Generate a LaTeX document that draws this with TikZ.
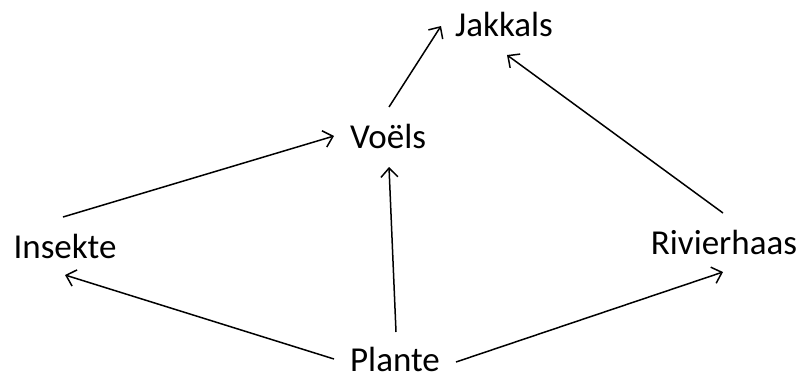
\documentclass[tikz,border=0pt]{standalone}
\usepackage{fontspec}
\setmainfont{Carlito}
\usetikzlibrary{arrows.meta}
\begin{document}
\begin{tikzpicture}[x=1pt,y=-1pt,
  lbl/.style={anchor=base,inner sep=0pt,font=\fontsize{35}{40}\selectfont},
  arr/.style={line width=1.5pt,-{Straight Barb[length=9pt,width=17pt,line width=1.5pt]}}]
\useasboundingbox (0,0) rectangle (802,378);
\node[lbl] (jakkals) at (504,36) {Jakkals};
\node[lbl] (voels) at (388,148) {Voëls};
\node[lbl] (insekte) at (65,258) {Insekte};
\node[lbl] (rivierhaas) at (724,254) {Rivierhaas};
\node[lbl] (plante) at (395,371) {Plante};
\draw[arr] ([shift={(1,-41)}]voels.base) -- ([shift={(-63,-10)}]jakkals.base);
\draw[arr] ([shift={(-1,-41)}]rivierhaas.base) -- ([shift={(3,19)}]jakkals.base);
\draw[arr] ([shift={(-2,-41)}]insekte.base) -- ([shift={(-54,-12)}]voels.base);
\draw[arr] ([shift={(1,-39)}]plante.base) -- ([shift={(1,19)}]voels.base);
\draw[arr] ([shift={(-61,-12)}]plante.base) -- ([shift={(0,17)}]insekte.base);
\draw[arr] ([shift={(61,-9)}]plante.base) -- ([shift={(-1,18)}]rivierhaas.base);
\end{tikzpicture}
\end{document}
